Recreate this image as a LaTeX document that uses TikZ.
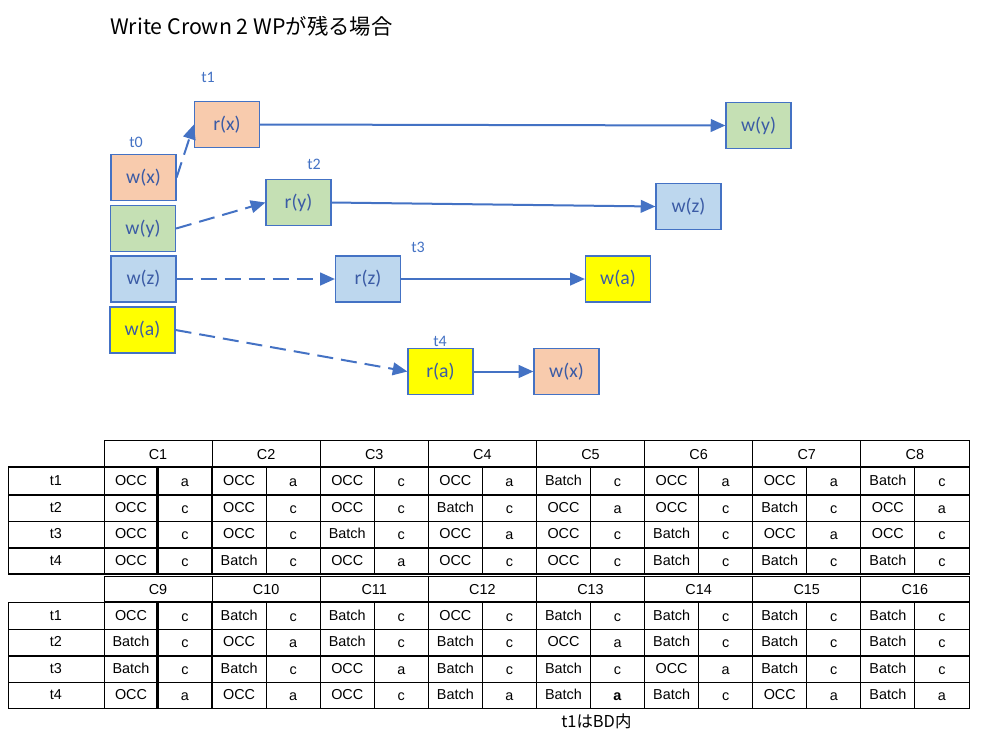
\documentclass[tikz,border=0pt]{standalone}
\usepackage{fontspec}
\setmainfont{Liberation Sans}
\newfontfamily\jpfont{Noto Sans CJK JP}
\newfontfamily\boxfont{Carlito}
\usetikzlibrary{arrows.meta}
\definecolor{peach}{HTML}{F8CBAD}
\definecolor{lgreen}{HTML}{C5E0B4}
\definecolor{lblue}{HTML}{BDD7EE}
\definecolor{yel}{HTML}{FFFF00}
\definecolor{edge}{HTML}{4472C4}
\definecolor{btext}{HTML}{3B5BA5}
\begin{document}
\begin{tikzpicture}[x=0.75pt,y=-0.75pt,
 box/.style={draw=edge, line width=0.9pt, minimum width=48.75pt, minimum height=34.5pt, inner sep=0pt, font=\boxfont\fontsize{14.8}{17}\selectfont, text=btext},
 tlabel/.style={font=\boxfont\fontsize{12}{14}\selectfont, text=edge, inner sep=0pt},
 conn/.style={draw=edge, line width=1.5pt, -{Triangle[length=11pt,width=9.5pt]}},
 dconn/.style={conn, dash pattern=on 12pt off 6pt},
 cell/.style={anchor=base, inner sep=0pt, font=\fontsize{10.8}{12}\selectfont},
 grid/.style={line width=0.7pt},
 tgrid/.style={line width=1.2pt},
 ]
\useasboundingbox (0,0) rectangle (988,744);
\node[anchor=base west, inner sep=0pt, font=\jpfont\fontsize{16}{19}\selectfont] (title) at (110,34) {Write Crown 2 WPが残る場合};

% boxes
\node[box, fill=peach]  (wx)  at (143.5,177.5) {w(x)};
\node[box, fill=lgreen] (wy)  at (143,228.5) {w(y)};
\node[box, fill=lblue]  (wz)  at (143.5,279) {w(z)};
\node[box, fill=yel]    (wa)  at (142.5,330) {w(a)};
\node[box, fill=peach]  (rx)  at (227,124.5) {r(x)};
\node[box, fill=lgreen] (ry)  at (298.5,202.5) {r(y)};
\node[box, fill=lblue]  (rz)  at (368,279) {r(z)};
\node[box, fill=yel]    (ra)  at (440.5,371.5) {r(a)};
\node[box, fill=lgreen] (wy2) at (758.5,125.5) {w(y)};
\node[box, fill=lblue]  (wz2) at (688.5,206.5) {w(z)};
\node[box, fill=yel]    (wa2) at (618,279) {w(a)};
\node[box, fill=peach]  (wx2) at (566.5,371.5) {w(x)};

% labels
\node[tlabel] (t0) at (136,142) {t0};
\node[tlabel] (t1) at (208,77) {t1};
\node[tlabel] (t2) at (314,164) {t2};
\node[tlabel] (t3) at (418,247) {t3};
\node[tlabel] (t4) at (440,341) {t4};

% connectors
\draw[dconn] (wx.east) -- (rx.west);
\draw[dconn] (wy.east) -- (ry.west);
\draw[dconn] (wz.east) -- (rz.west);
\draw[dconn] (wa.east) -- (ra.west);
\draw[conn] (rx.east) -- (wy2.west);
\draw[conn] (ry.east) -- (wz2.west);
\draw[conn] (rz.east) -- (wa2.west);
\draw[conn] (ra.east) -- (wx2.west);

% ---------- upper table ----------
\draw[grid] (104,440) rectangle (969,467);
\foreach \i in {1,...,7} \draw[grid] ({104+108.125*\i},440) -- ({104+108.125*\i},467);
\foreach \i in {1,...,8} {
  \pgfmathsetmacro\xs{104+108.125*(\i-1)}
  \node[cell] (hu-\i) at (\xs+54,459) {C\i};
}
\draw[grid] (8,467) rectangle (969,574);
\foreach \y in {521} \draw[grid] (8,\y) -- (969,\y);
\foreach \y in {495,548} \draw[tgrid] (8,\y) -- (969,\y);
\draw[tgrid] (8,467) -- (969,467);
\draw[tgrid] (8,574) -- (969,574);
\draw[grid] (104,467) -- (104,574);
\foreach \i in {0,...,7} {
  \draw[grid] ({104+108.125*\i+54},467) -- ({104+108.125*\i+54},574);
  \draw[grid] ({104+108.125*\i},467) -- ({104+108.125*\i},574);
}
\foreach \x in {157,212,536.5,590.5} \draw[tgrid] (\x,467) -- (\x,574);
\foreach \r/\row in {
 1/{OCC/a,OCC/a,OCC/c,OCC/a,Batch/c,OCC/a,OCC/a,Batch/c},
 2/{OCC/c,OCC/c,OCC/c,Batch/c,OCC/a,OCC/c,Batch/c,OCC/a},
 3/{OCC/c,OCC/c,Batch/c,OCC/a,OCC/c,Batch/c,OCC/a,OCC/c},
 4/{OCC/c,Batch/c,OCC/a,OCC/c,OCC/c,Batch/c,Batch/c,Batch/c}} {
  \pgfmathsetmacro\yb{467+26.75*(\r-0.5)+5}
  \node[cell] (lu-\r) at (56,\yb) {t\r};
  \foreach \p/\q [count=\i] in \row {
    \pgfmathsetmacro\xs{104+108.125*(\i-1)}
    \node[cell] (u-\r-\i-a) at (\xs+27,\yb) {\p};
    \node[cell] (u-\r-\i-b) at (\xs+81,\yb+1) {\q};
  }
}

% ---------- lower table ----------
\draw[grid] (104,576) rectangle (969,602);
\foreach \i in {1,...,7} \draw[grid] ({104+108.125*\i},576) -- ({104+108.125*\i},602);
\foreach \i in {1,...,8} {
  \pgfmathsetmacro\xs{104+108.125*(\i-1)}
  \pgfmathtruncatemacro\cn{\i+8}
  \node[cell] (hl-\i) at (\xs+54,594) {C\cn};
}
\draw[grid] (8,602) rectangle (969,708);
\foreach \y in {629,682} \draw[grid] (8,\y) -- (969,\y);
\draw[tgrid] (8,656) -- (969,656);
\draw[tgrid] (104,602) -- (969,602);
\draw[grid] (104,602) -- (104,708);
\foreach \i in {0,...,7} {
  \draw[grid] ({104+108.125*\i+54},602) -- ({104+108.125*\i+54},708);
  \draw[grid] ({104+108.125*\i},602) -- ({104+108.125*\i},708);
}
\foreach \x in {157,212,536.5,590.5,644.5} \draw[tgrid] (\x,602) -- (\x,708);
\foreach \r/\row in {
 1/{OCC/c,Batch/c,Batch/c,OCC/c,Batch/c,Batch/c,Batch/c,Batch/c},
 2/{Batch/c,OCC/a,Batch/c,Batch/c,OCC/a,Batch/c,Batch/c,Batch/c},
 3/{Batch/c,Batch/c,OCC/a,Batch/c,Batch/c,OCC/a,Batch/c,Batch/c},
 4/{OCC/a,OCC/a,OCC/c,Batch/a,Batch/\textbf{a},Batch/c,OCC/a,Batch/a}} {
  \pgfmathsetmacro\yb{602+26.5*(\r-0.5)+5}
  \node[cell] (ll-\r) at (56,\yb) {t\r};
  \foreach \p/\q [count=\i] in \row {
    \pgfmathsetmacro\xs{104+108.125*(\i-1)}
    \node[cell] (l-\r-\i-a) at (\xs+27,\yb) {\p};
    \node[cell] (l-\r-\i-b) at (\xs+81,\yb+1) {\q};
  }
}
\node[anchor=west, inner sep=0pt, font=\jpfont\fontsize{12.3}{14}\selectfont] (note) at (561,721) {t1はBD内};
\end{tikzpicture}
\end{document}
